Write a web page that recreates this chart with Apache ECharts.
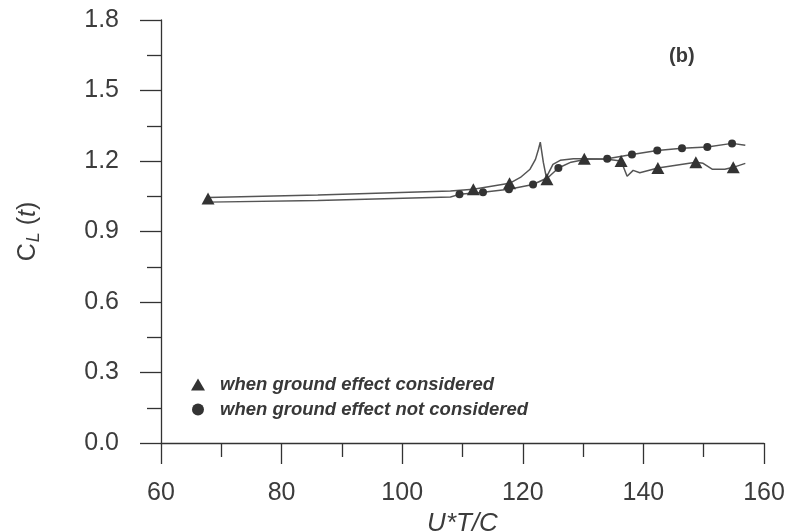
<!DOCTYPE html>
<html>
<head>
<meta charset="utf-8">
<script src="https://cdn.jsdelivr.net/npm/echarts@6/dist/echarts.min.js"></script>
<style>html,body{margin:0;padding:0;background:#fff;}#c{width:792px;height:531px;}</style>
</head>
<body>
<div id="c"></div>
<script>
// Data
var groundLine = [[67.8,1.045],[86,1.055],[108,1.072],[111.8,1.08],[117.8,1.105],[119.6,1.13],[121.2,1.165],[122.1,1.207],[122.6,1.25],[122.9,1.28],[123.4,1.195],[123.9,1.13],[124.0,1.122],[125.0,1.186],[126.2,1.203],[128.4,1.21],[130.2,1.21],[134,1.207],[136.3,1.20],[137.3,1.135],[138.3,1.16],[139.4,1.15],[142.4,1.17],[148.7,1.195],[149.9,1.19],[151.4,1.165],[153.5,1.165],[154.9,1.173],[156.9,1.19]];
var groundMarks = [[67.8,1.04],[111.8,1.08],[117.8,1.105],[124.0,1.122],[130.2,1.21],[136.3,1.20],[142.4,1.17],[148.7,1.195],[154.9,1.173]];
var noGroundLine = [[67.8,1.025],[86,1.032],[108,1.047],[109.5,1.058],[113.4,1.067],[117.7,1.08],[121.7,1.10],[124.2,1.13],[125.9,1.17],[128,1.195],[130.5,1.207],[134,1.21],[138.1,1.228],[142.3,1.245],[146.4,1.254],[150.6,1.26],[154.7,1.275],[156.9,1.267]];
var noGroundMarks = [[109.5,1.058],[113.4,1.067],[117.7,1.08],[121.7,1.10],[125.9,1.17],[134,1.21],[138.1,1.228],[142.3,1.245],[146.4,1.254],[150.6,1.26],[154.7,1.275]];
var seriesNames = ['when ground effect considered','when ground effect not considered'];
var xTitle = 'U*T/C';
var panelLabel = '(b)';

var chart = echarts.init(document.getElementById('c'));
var axisCol = '#333';
var txtCol = '#3c3c3c';
var font = 'Liberation Sans, Arial, sans-serif';
chart.setOption({
  backgroundColor: '#fff',
  animation: false,
  grid: {left: 161, top: 20, width: 603, height: 423, containLabel: false, outerBoundsMode: 'none'},
  legend: {
    data: seriesNames,
    orient: 'vertical', left: 186, top: 370,
    itemWidth: 14, itemHeight: 12, itemGap: 6,
    textStyle: {fontFamily: font, fontSize: 18.5, fontWeight: 'bold', fontStyle: 'italic', color: '#383838', padding: [0,0,0,10], lineHeight: 18}
  },
  graphic: [{type: 'text', left: 669, top: 46, style: {text: panelLabel, fontFamily: font, fontSize: 20, fontWeight: 'bold', fill: '#3a3a3a'}}],
  xAxis: {
    type: 'value', min: 60, max: 160, interval: 20,
    name: xTitle, nameLocation: 'middle', nameGap: 57,
    nameTextStyle: {fontFamily: font, fontSize: 26, fontStyle: 'italic', color: txtCol},
    axisLine: {onZero: false, lineStyle: {color: axisCol, width: 1.3}},
    axisTick: {length: 21, lineStyle: {color: axisCol, width: 1.3}},
    minorTick: {show: true, splitNumber: 2, length: 14, lineStyle: {color: axisCol, width: 1.3}},
    axisLabel: {margin: 38, fontFamily: font, fontSize: 25, color: txtCol},
    splitLine: {show: false}
  },
  yAxis: {
    type: 'value', min: 0, max: 1.8, interval: 0.3,
    name: '{c|C}{s|L}{n| (}{i|t}{n|)}', nameLocation: 'middle', nameGap: 118, nameRotate: 90,
    nameTextStyle: {
      color: txtCol,
      rich: {
        c: {fontFamily: font, fontSize: 25, color: txtCol},
        s: {fontFamily: font, fontSize: 18, fontStyle: 'italic', color: txtCol, padding: [12,0,0,1]},
        n: {fontFamily: font, fontSize: 25, color: txtCol},
        i: {fontFamily: font, fontSize: 25, fontStyle: 'italic', color: txtCol}
      }
    },
    axisLine: {lineStyle: {color: axisCol, width: 1.3}},
    axisTick: {length: 21, lineStyle: {color: axisCol, width: 1.3}},
    minorTick: {show: true, splitNumber: 2, length: 14, lineStyle: {color: axisCol, width: 1.3}},
    axisLabel: {margin: 42, fontFamily: font, fontSize: 25, color: txtCol, formatter: function (v) { return v.toFixed(1); }},
    splitLine: {show: false}
  },
  series: [
    {type: 'line', data: groundLine, showSymbol: false, lineStyle: {color: '#555', width: 1.5}, z: 2},
    {type: 'line', data: noGroundLine, showSymbol: false, lineStyle: {color: '#555', width: 1.5}, z: 2},
    {name: seriesNames[0], type: 'scatter', data: groundMarks, symbol: 'triangle', symbolSize: [13, 12], itemStyle: {color: '#333', opacity: 1}, z: 3},
    {name: seriesNames[1], type: 'scatter', data: noGroundMarks, symbol: 'circle', symbolSize: 8, itemStyle: {color: '#333', opacity: 1}, z: 3}
  ]
});
</script>
</body>
</html>
